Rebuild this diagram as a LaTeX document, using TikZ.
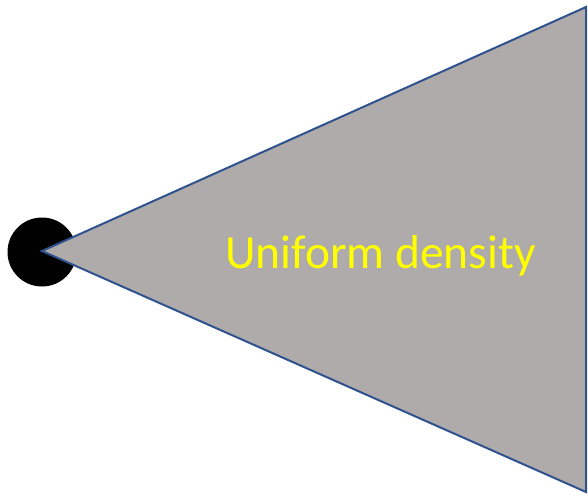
\documentclass[tikz,border=0pt]{standalone}
\usepackage{fontspec}
\setmainfont{Carlito}
\definecolor{conegray}{RGB}{175,171,171}
\definecolor{coneedge}{RGB}{47,82,143}
\definecolor{textyellow}{RGB}{255,255,0}
\begin{document}
\begin{tikzpicture}[x=1pt,y=-1pt,
  cone/.style={fill=conegray,draw=coneedge,line width=2pt,line join=miter},
  dot/.style={circle,fill=black,minimum size=69pt,inner sep=0pt},
  label/.style={text=textyellow,font=\fontsize{47.5}{52}\selectfont,inner sep=0pt,anchor=base west}]
\useasboundingbox (0,0) rectangle (588,496);
\node[dot] (dot) at (42,252) {};
\coordinate (apex) at (42,251);
\coordinate (top) at (586,7);
\coordinate (bot) at (586,492);
\draw[cone] (apex) -- (top) -- (bot) -- cycle;
\node[label] (txt) at (225,268) {Uniform density};
\end{tikzpicture}
\end{document}
